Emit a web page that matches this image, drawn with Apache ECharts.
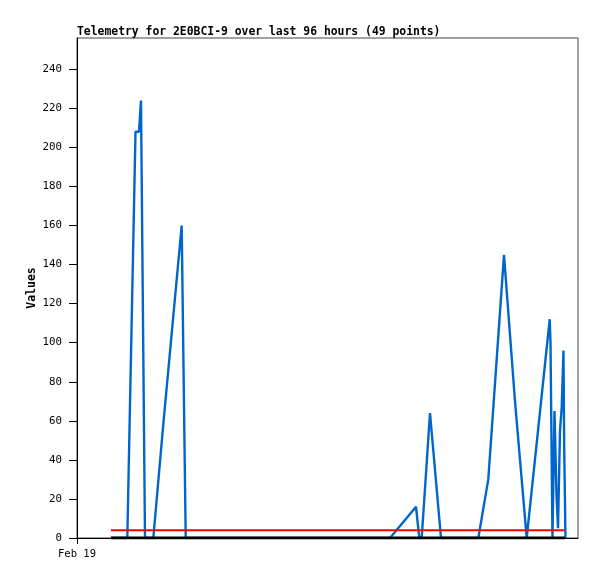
<!DOCTYPE html>
<html>
<head>
<meta charset="utf-8">
<script src="https://cdn.jsdelivr.net/npm/echarts@6/dist/echarts.min.js"></script>
<style>html,body{margin:0;padding:0;background:#fff}#c{width:597px;height:579px}</style>
</head>
<body>
<div id="c"></div>
<script>
// hours since axis start (Feb 19 00:00)
const hours = [6.5, 9.64, 11.21, 11.88, 12.26, 13.03, 14.62, 16.53, 20.06, 20.83, 59.98, 64.96, 65.59, 66.05, 67.64, 69.75, 76.90, 78.81, 81.82, 83.93, 86.17, 88.14, 90.58, 90.73, 91.11, 91.50, 91.88, 92.17, 92.55, 92.88, 93.22, 93.35, 93.55, 93.60];
const values = [0, 0, 208, 208, 224, 0, 0, 58, 160, 0, 0, 16, 0, 0, 64, 0, 0, 30, 145, 70, 0, 50, 112, 100, 0, 65, 22, 5, 55, 67, 96, 48, 48, 0];
const baseHours = [6.5, 93.5];
const baseValues = [0, 0];
const limitValues = [4, 4];
const yTicks = [0, 20, 40, 60, 80, 100, 120, 140, 160, 180, 200, 220, 240];
const xTicks = [0];
const xTickLabels = ['Feb 19'];
const titleText = 'Telemetry for 2E0BCI-9 over last 96 hours (49 points)';

const mono = 'DejaVu Sans Mono';
const pair = (xs, ys) => xs.map((x, i) => [x, ys[i]]);
const chart = echarts.init(document.getElementById('c'), null, {renderer: 'canvas'});
chart.setOption({
  animation: false,
  backgroundColor: '#fff',
  title: {
    text: titleText, left: 72, top: 22,
    textStyle: {fontFamily: mono, fontSize: 11.4, fontWeight: 'bold', color: '#000'}
  },
  grid: {left: 77, right: 19, top: 38, bottom: 41, show: true, borderColor: '#444', borderWidth: 1, backgroundColor: 'transparent'},
  xAxis: {
    type: 'value', min: 0, max: 96,
    axisLine: {show: true, lineStyle: {color: '#000', width: 1}},
    axisTick: {show: true, length: 6, customValues: xTicks, lineStyle: {color: '#000'}},
    axisLabel: {customValues: xTicks, formatter: v => xTickLabels[xTicks.indexOf(v)] || '', fontFamily: mono, fontSize: 10.5, color: '#000', margin: 11},
    splitLine: {show: false}
  },
  yAxis: {
    type: 'value', min: 0, max: 256,
    name: 'Values', nameLocation: 'middle', nameRotate: 90, nameGap: 39, nameMoveOverlap: false,
    nameTextStyle: {fontFamily: mono, fontSize: 11.5, fontWeight: 'bold', color: '#000'},
    axisLine: {show: true, lineStyle: {color: '#000', width: 1}},
    axisTick: {show: true, length: 8, customValues: yTicks, lineStyle: {color: '#000'}},
    axisLabel: {customValues: yTicks, fontFamily: mono, fontSize: 10.8, color: '#000', margin: 15},
    splitLine: {show: false}
  },
  series: [
    {type: 'line', data: pair(hours, values), symbol: 'none', lineStyle: {color: '#0066CC', width: 2.4}, z: 2},
    {type: 'line', data: pair(baseHours, baseValues), symbol: 'none', lineStyle: {color: '#000', width: 2.8}, z: 3},
    {type: 'line', data: pair(baseHours, limitValues), symbol: 'none', lineStyle: {color: '#FF0000', width: 2}, z: 4}
  ]
});
</script>
</body>
</html>
